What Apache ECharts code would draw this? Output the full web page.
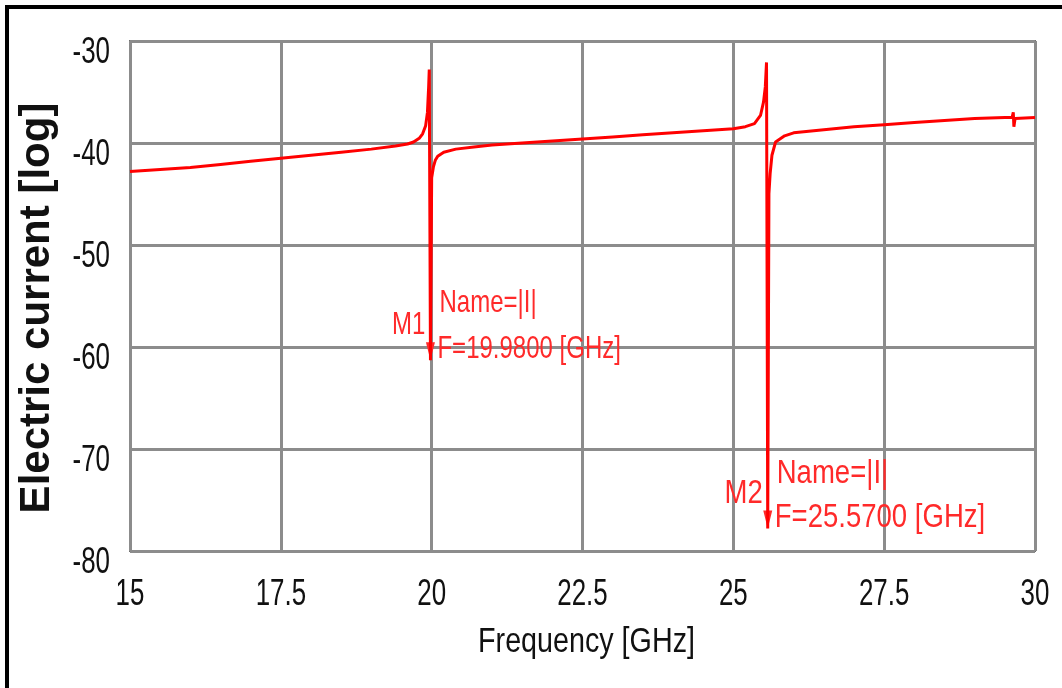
<!DOCTYPE html>
<html>
<head>
<meta charset="utf-8">
<script src="https://cdn.jsdelivr.net/npm/echarts@6/dist/echarts.min.js"></script>
<style>
  html, body { margin: 0; padding: 0; background: #ffffff; }
  #chart { width: 1062px; height: 688px; }
</style>
</head>
<body>
<div id="chart"></div>
<script>
// Frequency sweep (GHz) and the current response (log scale)
const freq = [
  15.0, 15.5, 16.0, 16.5, 17.0, 17.5, 18.0, 18.5, 19.0, 19.4, 19.6, 19.7,
  19.8, 19.85, 19.9, 19.93, 19.95, 19.96, 19.98, 20.0, 20.03, 20.06, 20.1,
  20.2, 20.4, 20.7, 21.0, 21.5, 22.0, 22.5, 23.0, 23.5, 24.0, 24.5, 25.0,
  25.2, 25.35, 25.45, 25.5, 25.53, 25.55, 25.57, 25.59, 25.61, 25.64, 25.7,
  25.85, 26.0, 26.5, 27.0, 27.5, 28.0, 28.5, 29.0, 29.5, 29.62, 29.64,
  29.65, 29.67, 30.0
];
const current = [
  -42.8, -42.6, -42.4, -42.1, -41.8, -41.5, -41.2, -40.9, -40.6, -40.3, -40.1, -39.9,
  -39.5, -39.1, -38.3, -37.0, -34.5, -32.8, -61.3, -43.4, -42.3, -41.7, -41.3,
  -40.9, -40.6, -40.4, -40.2, -40.0, -39.8, -39.6, -39.4, -39.2, -39.0, -38.8, -38.6,
  -38.4, -38.1, -37.3, -36.0, -34.5, -32.1, -77.8, -45.0, -43.0, -41.2, -39.9,
  -39.3, -39.0, -38.7, -38.4, -38.2, -38.0, -37.8, -37.6, -37.5, -37.5, -37.0,
  -38.4, -37.6, -37.5
];

// Axis ticks
const freqTicks = [15, 17.5, 20, 22.5, 25, 27.5, 30];
const currentTicks = [-80, -70, -60, -50, -40, -30];

// Markers placed on the trace
const markerNames = ['M1', 'M2'];
const markerFreqs = [19.98, 25.57];
const markerQuantity = '|I|';

const sans = '"Liberation Sans", Arial, sans-serif';
const markerRed = '#ff2a2a';
// per-marker text size and horizontal squeeze (narrow face)
const markerFont = [{ size: 32, sx: 0.75 }, { size: 34, sx: 0.81 }];

const markerValues = markerFreqs.map(function (f) { return current[freq.indexOf(f)]; });

const chart = echarts.init(document.getElementById('chart'), null, { renderer: 'canvas' });

chart.setOption({
  backgroundColor: '#ffffff',
  animation: false,
  grid: {
    left: 130, right: 27, top: 41, bottom: 137,
    show: true, borderColor: '#707070', borderWidth: 2, backgroundColor: '#ffffff'
  },
  xAxis: {
    type: 'value',
    min: freqTicks[0], max: freqTicks[freqTicks.length - 1], interval: 2.5,
    axisLine: { show: false }, axisTick: { show: false }, axisLabel: { show: false },
    splitLine: { show: true, lineStyle: { color: '#8c8c8c', width: 3 } }
  },
  yAxis: {
    type: 'value',
    min: currentTicks[0], max: currentTicks[currentTicks.length - 1], interval: 10,
    axisLine: { show: false }, axisTick: { show: false }, axisLabel: { show: false },
    splitLine: { show: true, lineStyle: { color: '#8c8c8c', width: 3 } }
  },
  series: [{
    type: 'line',
    data: freq.map(function (f, i) { return [f, current[i]]; }),
    showSymbol: false,
    lineStyle: { color: '#ff0000', width: 3 },
    itemStyle: { color: '#ff0000' },
    z: 5,
    markPoint: {
      silent: true,
      symbol: 'triangle', symbolRotate: 180, symbolSize: [9, 18], symbolOffset: [0, -9],
      itemStyle: { color: markerRed },
      label: { show: false },
      data: markerFreqs.map(function (f, i) { return { coord: [f, markerValues[i]] }; })
    }
  }]
});

// Narrow-faced texts: tick labels, axis titles and marker readouts
function narrowText(x, y, text, size, sx, color, align) {
  return {
    type: 'text', z: 100, x: x, y: y, scaleX: sx,
    style: {
      text: text, fontFamily: sans, fontSize: size, fill: color,
      align: align, verticalAlign: 'middle'
    }
  };
}

const px = function (v) { return chart.convertToPixel({ xAxisIndex: 0 }, v); };
const py = function (v) { return chart.convertToPixel({ yAxisIndex: 0 }, v); };
const plotLeft = px(freqTicks[0]);
const plotRight = px(freqTicks[freqTicks.length - 1]);
const plotBottom = py(currentTicks[0]);
const plotTop = py(currentTicks[currentTicks.length - 1]);

const texts = [
  {
    type: 'rect', z: 100,
    shape: { x: 7, y: 7, width: 1100, height: 720 },
    style: { fill: 'none', stroke: '#000000', lineWidth: 4 }
  },
  {
    type: 'text', z: 100,
    x: 37, y: (plotTop + plotBottom) / 2 + 12, rotation: Math.PI / 2,
    style: {
      text: 'Electric current [log]', fontFamily: sans,
      fontWeight: 'bold', fontSize: 42, fill: '#111111',
      align: 'center', verticalAlign: 'middle'
    }
  },
  narrowText((plotLeft + plotRight) / 2 + 4, plotBottom + 91, 'Frequency [GHz]', 35, 0.82, '#111111', 'center')
];

freqTicks.forEach(function (v) {
  texts.push(narrowText(px(v), plotBottom + 44, String(v), 37, 0.7, '#111111', 'center'));
});
currentTicks.forEach(function (v) {
  texts.push(narrowText(plotLeft - 20, py(v) + 12, String(v), 37, 0.7, '#111111', 'right'));
});

markerFreqs.forEach(function (f, i) {
  const tipX = px(f);
  const tipY = py(markerValues[i]);
  const mf = markerFont[i];
  const lineGap = i === 0 ? 47 : 45;
  texts.push(narrowText(tipX - 5, tipY - 35, markerNames[i], mf.size, mf.sx, markerRed, 'right'));
  texts.push(narrowText(tipX + 9, tipY - 10 - lineGap, 'Name=' + markerQuantity, mf.size, mf.sx, markerRed, 'left'));
  texts.push(narrowText(tipX + 7, tipY - 11, 'F=' + f.toFixed(4) + ' [GHz]', mf.size, mf.sx, markerRed, 'left'));
});

chart.setOption({ graphic: texts });
</script>
</body>
</html>
